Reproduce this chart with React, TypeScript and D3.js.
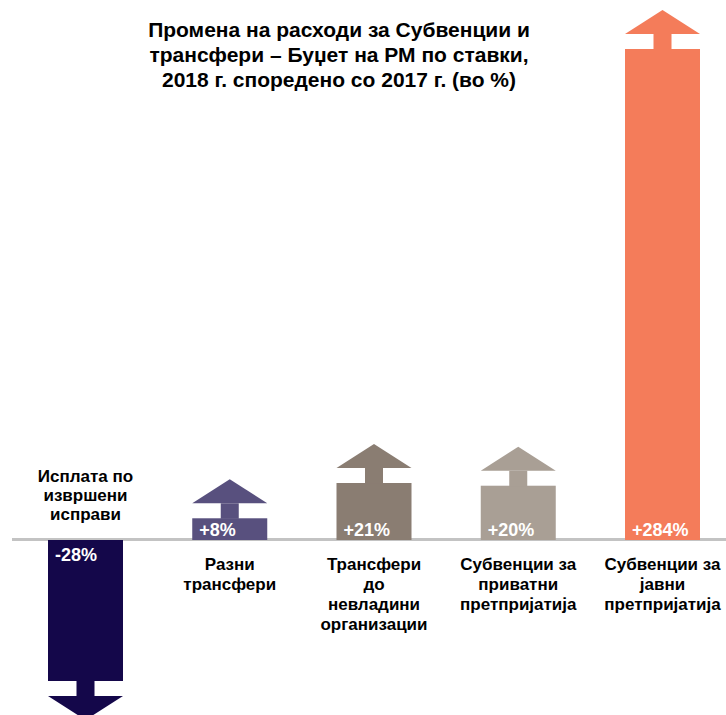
import React from "react";
import * as d3 from "d3";

const titleLines = [
  "Промена на расходи за Субвенции и",
  "трансфери – Буџет на РМ по ставки,",
  "2018 г. споредено со 2017 г. (во %)",
];
const categories = [
  "Исплата по\nизвршени\nисправи",
  "Разни\nтрансфери",
  "Трансфери\nдо\nневладини\nорганизации",
  "Субвенции за\nприватни\nпретпријатија",
  "Субвенции за\nјавни\nпретпријатија",
];
const values = [-28, 8, 21, 20, 284];
const valueLabels = ["-28%", "+8%", "+21%", "+20%", "+284%"];
const colors = ["#14074a", "#58507e", "#8a7d72", "#a99f95", "#f47c5a"];

const W = 726;
const H = 715;
const FONT = "'Liberation Sans', Arial, Helvetica, sans-serif";

export default function App() {
  const x = d3.scalePoint<string>().domain(categories).range([85.5, 662.5]);
  // broken (piecewise) scale, as in the infographic
  const y = d3.scaleLinear().domain([-28, 0, 21, 284]).range([681, 540, 483, 49]);
  const y0 = y(0);
  const bw = 75;
  const stemW = 18;
  const gap = 15;
  const headH = 24;

  return (
    <svg
      width={W}
      height={H}
      style={{ position: "absolute", left: 0, top: 0, display: "block", background: "#fff" }}
      fontFamily={FONT}
    >
      <g fontWeight="bold" fontSize={21} textAnchor="middle" fill="#000">
        {titleLines.map((t, i) => (
          <text key={i} x={339} y={37 + i * 25}>
            {t}
          </text>
        ))}
      </g>
      <line x1={12} x2={W} y1={539.5} y2={539.5} stroke="#c3c3c3" strokeWidth={3} />
      {categories.map((c, i) => {
        const v = values[i];
        const cx = x(c)!;
        const left = cx - bw / 2;
        const yv = y(v);
        const up = v >= 0;
        const top = Math.min(yv, y0);
        const h = Math.abs(yv - y0);
        const dir = up ? -1 : 1;
        const stemStart = yv;
        const stemEnd = yv + dir * gap;
        const tip = stemEnd + dir * headH;
        const lines = c.split("\n");
        return (
          <g key={c}>
            <rect x={left} y={top} width={bw} height={h} fill={colors[i]} />
            <rect
              x={cx - stemW / 2}
              y={Math.min(stemStart, stemEnd)}
              width={stemW}
              height={gap + 0.5}
              fill={colors[i]}
            />
            <path
              d={`M${left},${stemEnd}L${left + bw},${stemEnd}L${cx},${tip}Z`}
              fill={colors[i]}
            />
            <text
              x={left + 7}
              y={up ? y0 - 4 : y0 + 21}
              fill="#fff"
              fontWeight="bold"
              fontSize={18}
            >
              {valueLabels[i]}
            </text>
            <g fontWeight="bold" fontSize={17} textAnchor="middle" fill="#000">
              {lines.map((l, j) => (
                <text
                  key={j}
                  x={cx}
                  y={up ? y0 + 30 + j * 20 : y0 - 20 - (lines.length - 1 - j) * 19}
                >
                  {l}
                </text>
              ))}
            </g>
          </g>
        );
      })}
    </svg>
  );
}
